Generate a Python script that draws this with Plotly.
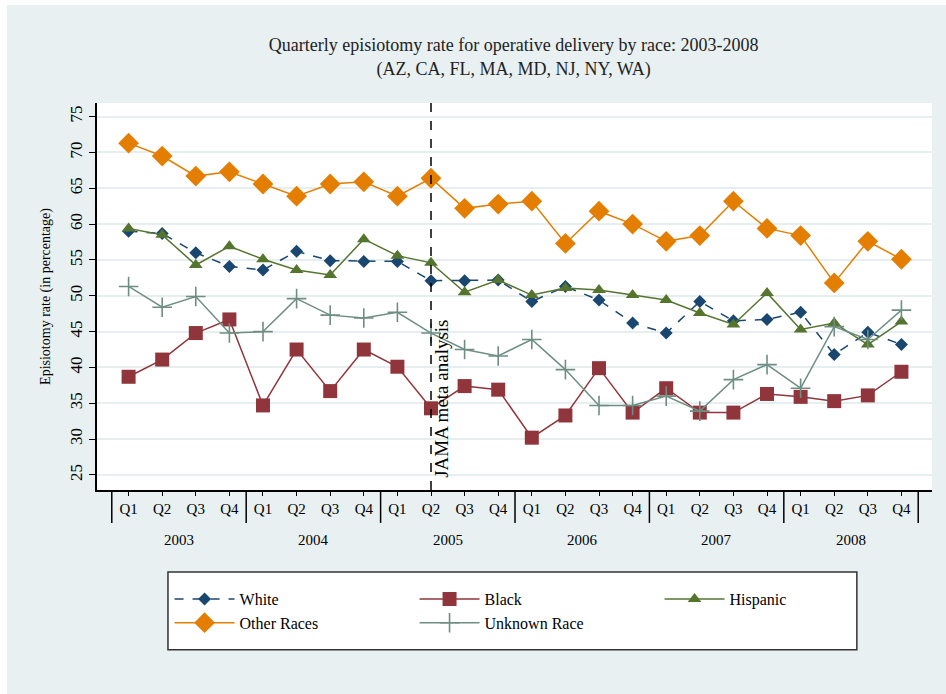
import plotly.graph_objects as go

quarters = ["Q1", "Q2", "Q3", "Q4"]
years = ["2003", "2004", "2005", "2006", "2007", "2008"]

white = [59.0, 58.7, 56.0, 54.1, 53.6, 56.2, 54.9, 54.8, 54.8, 52.1, 52.1, 52.2,
         49.2, 51.3, 49.4, 46.2, 44.8, 49.2, 46.5, 46.7, 47.7, 41.8, 44.9, 43.2]
black = [38.7, 41.1, 44.8, 46.7, 34.7, 42.5, 36.7, 42.5, 40.1, 34.3, 37.4, 36.9,
         30.2, 33.3, 39.9, 33.7, 37.1, 33.7, 33.7, 36.3, 35.9, 35.3, 36.1, 39.4]
hispanic = [59.4, 58.5, 54.3, 56.9, 55.1, 53.6, 52.9, 57.9, 55.6, 54.6, 50.5, 52.2,
            50.1, 51.1, 50.8, 50.1, 49.4, 47.6, 46.0, 50.4, 45.3, 46.2, 43.2, 46.4]
other = [71.3, 69.5, 66.7, 67.3, 65.6, 63.9, 65.6, 65.9, 63.9, 66.4, 62.2, 62.8,
         63.2, 57.3, 61.8, 60.0, 57.6, 58.4, 63.2, 59.4, 58.4, 51.8, 57.6, 55.1]
unknown = [51.3, 48.4, 49.9, 44.8, 45.0, 49.6, 47.3, 46.9, 47.7, 44.8, 42.5, 41.6,
           43.9, 39.7, 34.7, 34.7, 36.0, 33.9, 38.3, 40.4, 37.1, 45.7, 43.9, 48.0]

series_names = ["White", "Black", "Hispanic", "Other Races", "Unknown Race"]
event_label = "JAMA meta analysis"
event_index = 9  # 2005 Q2

ytick_vals = [25, 30, 35, 40, 45, 50, 55, 60, 65, 70, 75]

n = len(years) * len(quarters)
xs = list(range(n))
qlabels = [q for _ in years for q in quarters]

SERIF = "Liberation Serif, Times New Roman, serif"
BG = "#e8f0f2"

fig = go.Figure()

styles = [
    (white, "#1a476f", "diamond", 10, "dash", 1.5),
    (black, "#90353b", "square", 14, "solid", 1.5),
    (hispanic, "#55752f", "triangle-up", 12, "solid", 1.5),
    (other, "#e37e00", "diamond", 16, "solid", 1.5),
    (unknown, "#6e8e84", "cross-thin", 14, "solid", 1.5),
]
for name, (vals, col, sym, sz, dash, lw) in zip(series_names, styles):
    marker = dict(symbol=sym, size=sz, color=col)
    if sym == "cross-thin":
        marker["line"] = dict(color=col, width=1.6)
    fig.add_trace(go.Scatter(
        x=xs, y=vals, name=name, mode="lines+markers",
        line=dict(color=col, width=lw, dash=dash),
        marker=marker,
    ))

# event line
fig.add_shape(type="line", xref="x", yref="paper", x0=event_index, x1=event_index,
              y0=0, y1=1, line=dict(color="black", width=1.5, dash="dash"))
fig.add_annotation(x=event_index, y=0.025, xref="x", yref="paper", text=event_label,
                   textangle=-90, showarrow=False, xanchor="left", yanchor="bottom",
                   xshift=-2, font=dict(family=SERIF, size=19, color="black"))

# year dividers
for k in range(len(years) + 1):
    xd = k * len(quarters) - 0.5
    fig.add_shape(type="line", xref="x", yref="paper", x0=xd, x1=xd,
                  y0=0, y1=-0.085, line=dict(color="black", width=1.5))
# year labels
for k, yr in enumerate(years):
    fig.add_annotation(x=k * len(quarters) + 1.5, y=-0.128, xref="x", yref="paper",
                       text=yr, showarrow=False, yanchor="middle",
                       font=dict(family=SERIF, size=15, color="black"))

# white border strips at top/left of picture
fig.add_shape(type="rect", xref="paper", yref="paper", x0=-0.2, x1=1.2, y0=1.253, y1=1.4,
              line=dict(width=0), fillcolor="white", layer="below")
fig.add_shape(type="rect", xref="paper", yref="paper", x0=-0.2, x1=-0.1078, y0=-0.7, y1=1.4,
              line=dict(width=0), fillcolor="white", layer="below")
# legend frame
fig.add_shape(type="rect", xref="paper", yref="paper", x0=0.085, x1=0.910, y0=-0.413, y1=-0.212,
              line=dict(width=1.5, color="#333"), fillcolor="white", layer="below")

fig.update_layout(
    width=946, height=694,
    paper_bgcolor=BG, plot_bgcolor="white",
    margin=dict(l=97, r=14, t=103, b=204),
    title=dict(
        text="Quarterly episiotomy rate for operative delivery by race: 2003-2008<br>(AZ, CA, FL, MA, MD, NJ, NY, WA)",
        x=0.543, xanchor="center", y=0.926, yanchor="top",
        font=dict(family=SERIF, size=18, color="#222"),
    ),
    font=dict(family=SERIF, size=15, color="black"),
    xaxis=dict(
        range=[-0.94, 23.91], tickmode="array", tickvals=xs, ticktext=qlabels,
        showgrid=False, zeroline=False, showline=True, linecolor="black", linewidth=1.5,
        ticks="outside", ticklen=4, tickcolor="black", tickwidth=1,
        tickfont=dict(family=SERIF, size=15, color="black"),
        fixedrange=True,
    ),
    yaxis=dict(
        range=[22.9, 76.9], tickmode="array", tickvals=ytick_vals,
        tickangle=-90, showgrid=True, gridcolor="#e6eef0", gridwidth=1.5,
        zeroline=False, showline=True, linecolor="black", linewidth=1.5,
        ticks="outside", ticklen=6, tickcolor="black",
        tickfont=dict(family=SERIF, size=17, color="black"),
        title=dict(text="Episiotomy rate (in percentage)", standoff=14,
                   font=dict(family=SERIF, size=14, color="black")),
    ),
    legend=dict(
        orientation="h", x=0.527, xanchor="center", y=-0.3127, yanchor="middle",
        bgcolor="rgba(0,0,0,0)", borderwidth=0,
        entrywidth=170, entrywidthmode="pixels",
        font=dict(family=SERIF, size=16, color="black"),
        itemwidth=60, tracegroupgap=0,
    ),
)

fig.write_html("out.html")
